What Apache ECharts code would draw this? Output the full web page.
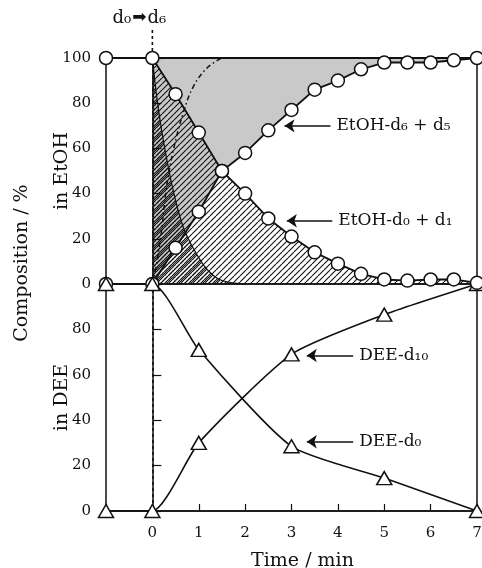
<!DOCTYPE html>
<html>
<head>
<meta charset="utf-8">
<script src="https://cdn.jsdelivr.net/npm/echarts@6/dist/echarts.min.js"></script>
<style>
  html, body { margin: 0; padding: 0; background: #fff; }
  #chart { width: 482px; height: 568px; }
</style>
</head>
<body>
<div id="chart"></div>
<script>
// ---- data ----
const timeEtOH = [-1, 0, 0.5, 1, 1.5, 2, 2.5, 3, 3.5, 4, 4.5, 5, 5.5, 6, 6.5, 7]
const etohD0 = [100, 100, 84, 67, 50, 40, 29, 21, 14, 9, 4.5, 2, 1.5, 2, 2, 0.5]
const etohD6 = [0, 0, 16, 32, 50, 58, 68, 77, 86, 90, 95, 98, 98, 98, 99, 100]

// thin theory curves in the upper panel
const timeFall = [0, 0.1, 0.2, 0.35, 0.5, 0.67, 0.85, 1.05, 1.2, 1.4, 1.6, 2.0]
const fallTheory = [100, 82, 68, 51, 37, 25, 17, 10, 6, 2.5, 1, 0]
const timeRise = [0, 0.1, 0.2, 0.3, 0.45, 0.67, 0.9, 1.2, 1.5]
const riseTheory = [0, 10, 24, 42, 59, 76, 88, 96, 100]

const timeDEE = [-1, 0, 1, 3, 5, 7]
const deeD0 = [100, 100, 71, 28.5, 14.5, 0]
const deeD10 = [0, 0, 30, 69, 86.5, 100]

const timeTicks = [0, 1, 2, 3, 4, 5, 6, 7]
const compTicks = [0, 20, 40, 60, 80, 100]

// arrow labels: [text, panel, tail, tip]
const arrowLabels = [
  ["EtOH-d₆ + d₅", 0, [3.84, 70], [2.85, 70]],
  ["EtOH-d₀ + d₁", 0, [3.88, 28], [2.9, 28]],
  ["DEE-d₁₀", 1, [4.33, 68.5], [3.33, 68.5]],
  ["DEE-d₀", 1, [4.33, 30.5], [3.33, 30.5]]
]

const INK = "#111"
const SERIF = "DejaVu Serif"

function pairs(xs, ys) {
  return xs.map((x, i) => [x, ys[i]])
}
function fromZero(xs, ys) {
  return pairs(xs, ys).filter(p => p[0] >= 0)
}

function hatch(step, lw) {
  const c = document.createElement("canvas")
  c.width = c.height = step
  const g = c.getContext("2d")
  g.strokeStyle = INK
  g.lineWidth = lw
  g.beginPath()
  for (let k = -1; k <= 1; k++) {
    g.moveTo(k * step, step)
    g.lineTo(k * step + step, 0)
  }
  g.stroke()
  return { image: c, repeat: "repeat" }
}

const chart = echarts.init(document.getElementById("chart"))

const fontBase = { fontFamily: SERIF, color: INK }

function xAxisFor(grid, shown) {
  return {
    type: "value",
    gridIndex: grid,
    min: -1,
    max: 7,
    interval: 1,
    z: 8,
    axisLine: { show: shown, onZero: false, lineStyle: { color: INK, width: 1.5 } },
    axisTick: {
      show: shown,
      inside: true,
      length: 7,
      lineStyle: { color: INK, width: 1.2 }
    },
    axisLabel: {
      show: shown,
      ...fontBase,
      fontSize: 15,
      margin: 15,
      formatter: v => (timeTicks.includes(v) ? String(v) : "")
    },
    splitLine: { show: false },
    name: shown ? "Time / min" : "",
    nameLocation: "middle",
    nameGap: 41,
    nameMoveOverlap: false,
    nameTextStyle: { ...fontBase, fontSize: 19, padding: [0, 0, 0, 22] }
  }
}

function yAxisFor(grid, name, hideTop) {
  return {
    type: "value",
    gridIndex: grid,
    min: 0,
    max: 100,
    interval: 20,
    z: 8,
    axisLine: { show: true, lineStyle: { color: INK, width: 1.5 } },
    axisTick: { show: true, inside: true, length: 9, lineStyle: { color: INK, width: 1.2 } },
    axisLabel: {
      ...fontBase,
      fontSize: 15,
      margin: 15,
      formatter: v => (hideTop && v === 100 ? "" : compTicks.includes(v) ? String(v) : "")
    },
    splitLine: { show: false },
    name: name,
    nameLocation: "middle",
    nameRotate: 90,
    nameGap: 34,
    nameMoveOverlap: false,
    nameTextStyle: { ...fontBase, fontSize: 19 }
  }
}

const circle = {
  symbol: "circle",
  symbolSize: 13,
  itemStyle: { color: "#fff", borderColor: INK, borderWidth: 1.5 },
  lineStyle: { color: INK, width: 1.8 }
}
const triangle = {
  symbol: "triangle",
  symbolSize: [15, 13],
  itemStyle: { color: "#fff", borderColor: INK, borderWidth: 1.5 },
  lineStyle: { color: INK, width: 1.6 }
}

function arrowSeries(panel) {
  return {
    type: "line",
    xAxisIndex: panel,
    yAxisIndex: panel,
    data: [],
    z: 12,
    markLine: {
      silent: true,
      animation: false,
      symbol: ["none", "arrow"],
      symbolSize: 10,
      lineStyle: { color: INK, width: 1.6, type: "solid" },
      label: {
        show: true,
        position: "start",
        distance: 6,
        ...fontBase,
        fontSize: 17
      },
      data: arrowLabels
        .filter(a => a[1] === panel)
        .map(a => [
          { coord: a[2], name: a[0], label: { formatter: a[0] } },
          { coord: a[3] }
        ])
    }
  }
}

const topExtent = [timeEtOH[1], timeEtOH[timeEtOH.length - 1]]

chart.setOption({
  animation: false,
  backgroundColor: "#fff",
  grid: [
    { left: 106, right: 5, top: 58, height: 226, show: true, borderColor: INK, borderWidth: 1.5, backgroundColor: "transparent", z: 9, outerBoundsMode: "none" },
    { left: 106, right: 5, top: 284, height: 227, show: true, borderColor: INK, borderWidth: 1.5, backgroundColor: "transparent", z: 9, outerBoundsMode: "none" }
  ],
  xAxis: [xAxisFor(0, false), xAxisFor(1, true)],
  yAxis: [yAxisFor(0, "in EtOH", false), yAxisFor(1, "in DEE", true)],
  series: [
    // stippled area: from the d6 curve up to 100%
    {
      type: "line",
      xAxisIndex: 0,
      yAxisIndex: 0,
      data: topExtent.map(t => [t, 100]),
      showSymbol: false,
      lineStyle: { color: INK, width: 2 },
      areaStyle: { color: "#c9c9c9", opacity: 1 },
      z: 1,
      silent: true
    },
    {
      type: "line",
      xAxisIndex: 0,
      yAxisIndex: 0,
      data: fromZero(timeEtOH, etohD6),
      showSymbol: false,
      lineStyle: { width: 0 },
      areaStyle: { color: "#fff", opacity: 1 },
      z: 2,
      silent: true
    },
    // hatched area under the d0 curve
    {
      type: "line",
      xAxisIndex: 0,
      yAxisIndex: 0,
      data: fromZero(timeEtOH, etohD0),
      showSymbol: false,
      lineStyle: { width: 0 },
      areaStyle: { color: hatch(6, 1.1), opacity: 1 },
      z: 3,
      silent: true
    },
    // dense hatching under the fast theory curve
    {
      type: "line",
      xAxisIndex: 0,
      yAxisIndex: 0,
      data: pairs(timeFall, fallTheory),
      smooth: 0.4,
      showSymbol: false,
      lineStyle: { color: INK, width: 1.2 },
      areaStyle: { color: hatch(4, 1.2), opacity: 1 },
      z: 4,
      silent: true
    },
    {
      type: "line",
      xAxisIndex: 0,
      yAxisIndex: 0,
      data: pairs(timeRise, riseTheory),
      smooth: 0.4,
      showSymbol: false,
      lineStyle: { color: INK, width: 1.5, type: [5, 3, 1.5, 3] },
      z: 4,
      silent: true
    },
    {
      name: "EtOH-d0 + d1",
      type: "line",
      xAxisIndex: 0,
      yAxisIndex: 0,
      data: pairs(timeEtOH, etohD0),
      ...circle,
      z: 10,
      markLine: {
        silent: true,
        symbol: "none",
        lineStyle: { color: INK, width: 1.6, type: [3, 3] },
        label: { show: false },
        data: [[{ coord: [0, 100] }, { coord: [0, 0] }]]
      }
    },
    {
      name: "EtOH-d6 + d5",
      type: "line",
      xAxisIndex: 0,
      yAxisIndex: 0,
      data: pairs(timeEtOH, etohD6),
      ...circle,
      z: 10
    },
    {
      name: "DEE-d0",
      type: "line",
      xAxisIndex: 1,
      yAxisIndex: 1,
      data: pairs(timeDEE, deeD0),
      smooth: 0.2,
      ...triangle,
      z: 10,
      markLine: {
        silent: true,
        symbol: "none",
        lineStyle: { color: INK, width: 1.6, type: [3, 3] },
        label: { show: false },
        data: [[{ coord: [0, 100] }, { coord: [0, 0] }]]
      }
    },
    {
      name: "DEE-d10",
      type: "line",
      xAxisIndex: 1,
      yAxisIndex: 1,
      data: pairs(timeDEE, deeD10),
      smooth: 0.2,
      ...triangle,
      z: 9
    },
    arrowSeries(0),
    arrowSeries(1)
  ]
})

// dotted stem above x = 0 and the "d0 -> d6" caption, placed from the axis scale
const top0 = chart.convertToPixel({ gridIndex: 0 }, [0, 100])
chart.setOption({
  graphic: [
    {
      type: "text",
      x: 22,
      y: 263,
      rotation: Math.PI / 2,
      style: { text: "Composition / %", font: "19px 'DejaVu Serif'", fill: INK, align: "center", verticalAlign: "middle" }
    },
    {
      type: "line",
      shape: { x1: top0[0], y1: 30, x2: top0[0], y2: top0[1] - 6 },
      style: { stroke: INK, lineWidth: 1.6, lineDash: [3, 3] },
      z: 20
    },
    {
      type: "text",
      x: top0[0] - 13,
      y: 18,
      style: {
        text: "{a|d₀}{b|➡}{a|d₆}",
        align: "center",
        verticalAlign: "middle",
        rich: {
          a: { fontFamily: SERIF, fontSize: 18, fill: INK },
          b: { fontFamily: "DejaVu Sans", fontSize: 17, fill: INK, padding: [0, 1, 0, 1] }
        }
      }
    }
  ]
})
</script>
</body>
</html>
